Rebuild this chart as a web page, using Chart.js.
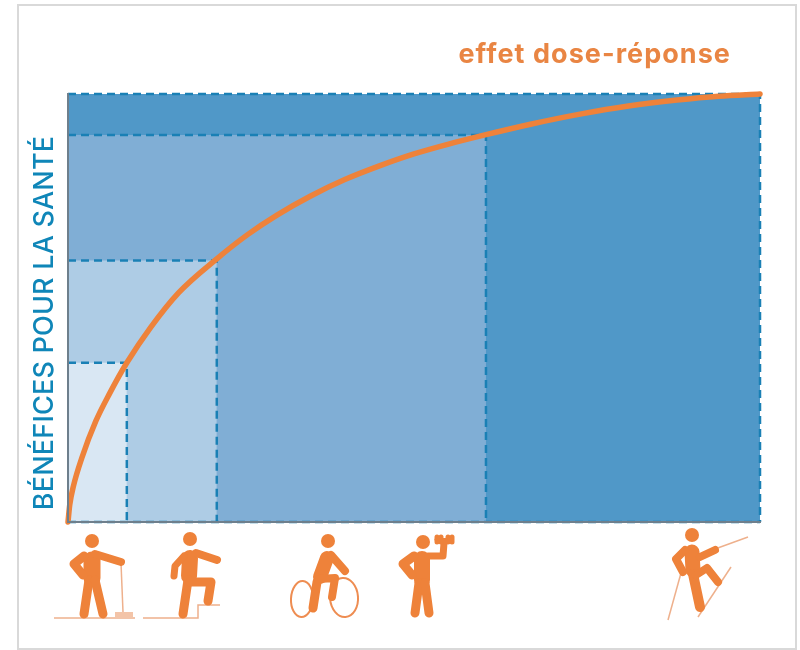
<!DOCTYPE html>
<html lang="fr">
<head>
<meta charset="utf-8">
<title>effet dose-réponse</title>
<script src="https://cdn.jsdelivr.net/npm/chart.js@4"></script>
<style>
    html, body { margin: 0; padding: 0; background: #fff; }
    #wrap { position: relative; width: 800px; height: 650px; overflow: hidden; }
    #frame { position: absolute; left: 17px; top: 4px; width: 776px; height: 642px; border: 2px solid #d9d9d9; }
    canvas { position: absolute; left: 0; top: 0; }
</style>
</head>
<body>
<div id="wrap">
    <div id="frame"></div>
    <canvas id="doseChart" width="800" height="650"></canvas>
</div>
<script>
// Curve
const curveDose =    [0, 0.25, 0.8, 2, 4, 6, 8.5, 12, 16, 21.5, 26, 30.2, 35, 40, 45, 50, 55, 60.4, 67, 74, 81, 88, 94, 100];
const curveBenefit = [0, 4, 8.5, 15, 23.5, 30, 37.2, 45.6, 53.6, 61.5, 67.2, 71.7, 76.1, 80, 83.2, 86, 88.3, 90.5, 93, 95.3, 97.2, 98.6, 99.5, 100];

// Dashed boxes, one per activity level
const levelDose =    [8.5, 21.5, 60.4, 100];
const levelBenefit = [37.2, 61.1, 90.4, 100];
const levelColors = ['#d9e7f3', '#aecce5', '#80aed5', '#5098c8'];

const chartTitle = 'effet dose-réponse';
const yLabel = 'BÉNÉFICES POUR LA SANTÉ';

const ORANGE = '#ee823a';
const PALE = '#eeb08c';
const DASH = '#1a80b5';

const datasets = [{
    data: curveDose.map((x, i) => ({ x: x, y: curveBenefit[i] })),
    borderColor: ORANGE,
    borderWidth: 5.5,
    borderCapStyle: 'round',
    cubicInterpolationMode: 'monotone',
    pointRadius: 0,
    fill: false,
    clip: false,
    order: 0
}, {
    // dashes along the base of the boxes
    data: [{ x: 0, y: 0 }, { x: 100, y: 0 }],
    borderColor: DASH,
    borderWidth: 2.5,
    borderDash: [8, 5],
    pointRadius: 0,
    fill: false,
    clip: false,
    order: 1
}];

levelDose.forEach((dose, i) => {
    datasets.push({
        data: [
            { x: 0, y: levelBenefit[i] },
            { x: dose, y: levelBenefit[i] },
            { x: dose, y: 0 }
        ],
        borderColor: DASH,
        borderWidth: 2.5,
        borderDash: [8, 5],
        backgroundColor: levelColors[i],
        fill: 'origin',
        tension: 0,
        pointRadius: 0,
        clip: false,
        order: i + 2
    });
});

// Small helpers for the pictograms under the axis
function limb(ctx, width, pts) {
    ctx.strokeStyle = ORANGE;
    ctx.lineWidth = width;
    ctx.lineCap = 'round';
    ctx.lineJoin = 'round';
    ctx.beginPath();
    pts.forEach((p, i) => i ? ctx.lineTo(p[0], p[1]) : ctx.moveTo(p[0], p[1]));
    ctx.stroke();
}

function thin(ctx, color, width, pts) {
    ctx.strokeStyle = color;
    ctx.lineWidth = width;
    ctx.lineCap = 'butt';
    ctx.lineJoin = 'miter';
    ctx.beginPath();
    pts.forEach((p, i) => i ? ctx.lineTo(p[0], p[1]) : ctx.moveTo(p[0], p[1]));
    ctx.stroke();
}

function head(ctx, x, y) {
    ctx.fillStyle = ORANGE;
    ctx.beginPath();
    ctx.arc(x, y, 7, 0, Math.PI * 2);
    ctx.fill();
}

function drawSweeper(ctx) {
    thin(ctx, PALE, 1.5, [[54, 618], [135, 618]]);
    thin(ctx, PALE, 1.5, [[121, 563], [123, 612]]);
    ctx.fillStyle = '#f3c4a8';
    ctx.fillRect(115, 612, 18, 5);
    head(ctx, 92, 541);
    limb(ctx, 17, [[92, 560], [92, 578]]);
    limb(ctx, 9, [[89, 580], [84, 614]]);
    limb(ctx, 9, [[95, 580], [103, 614]]);
    limb(ctx, 8, [[95, 554], [121, 562]]);
    limb(ctx, 9, [[84, 556], [74, 564], [83, 575]]);
}

function drawStepper(ctx) {
    thin(ctx, PALE, 1.5, [[143, 618], [198, 618], [198, 605], [220, 605]]);
    head(ctx, 190, 539);
    limb(ctx, 16, [[190, 558], [189, 576]]);
    limb(ctx, 9, [[188, 580], [183, 614]]);
    limb(ctx, 9, [[190, 582], [211, 582], [208, 601]]);
    limb(ctx, 8, [[196, 553], [217, 560]]);
    limb(ctx, 7, [[184, 556], [175, 566], [174, 576]]);
}

function drawCyclist(ctx) {
    ctx.strokeStyle = '#ee8d52';
    ctx.lineWidth = 2;
    ctx.beginPath();
    ctx.ellipse(302, 599, 11, 18, 0.05, 0, Math.PI * 2);
    ctx.stroke();
    ctx.beginPath();
    ctx.ellipse(344, 597.5, 14, 19.5, -0.08, 0, Math.PI * 2);
    ctx.stroke();
    head(ctx, 328, 541);
    limb(ctx, 14, [[327, 558], [320, 577]]);
    limb(ctx, 8, [[331, 555], [345, 571]]);
    limb(ctx, 9, [[317, 582], [313, 608]]);
    limb(ctx, 8, [[319, 579], [335, 578], [332, 597]]);
}

function drawLifter(ctx) {
    head(ctx, 423, 542);
    limb(ctx, 16, [[422, 559], [422, 580]]);
    limb(ctx, 9, [[419, 583], [415, 613]]);
    limb(ctx, 9, [[425, 583], [429, 613]]);
    limb(ctx, 9, [[414, 556], [403, 564], [412, 575]]);
    limb(ctx, 7, [[428, 556], [443, 556], [444, 543]]);
    limb(ctx, 3, [[436, 539.5], [452, 539.5]]);
    limb(ctx, 5, [[437, 537], [437, 542]]);
    limb(ctx, 5, [[441, 537], [441, 542]]);
    limb(ctx, 5, [[448, 537], [448, 542]]);
    limb(ctx, 5, [[452, 537], [452, 542]]);
}

function drawHiker(ctx) {
    thin(ctx, PALE, 1.5, [[715, 549], [748, 537]]);
    thin(ctx, PALE, 1.5, [[681, 573], [668, 620]]);
    thin(ctx, PALE, 1.5, [[698, 617], [731, 567]]);
    head(ctx, 692, 535);
    limb(ctx, 15, [[692, 552], [693, 570]]);
    limb(ctx, 10, [[693, 574], [700, 607]]);
    limb(ctx, 8, [[696, 575], [707, 568], [718, 582]]);
    limb(ctx, 8, [[700, 557], [715, 550]]);
    limb(ctx, 8, [[685, 550], [676, 559], [683, 572]]);
}

// Texts and pictograms around the plot
const decorations = {
    id: 'decorations',
    afterDraw(chart) {
        const ctx = chart.ctx;
        ctx.save();

        ctx.fillStyle = '#e98543';
        ctx.font = '700 27px Inter';
        ctx.letterSpacing = '1.05px';
        ctx.textAlign = 'right';
        ctx.textBaseline = 'alphabetic';
        ctx.fillText(chartTitle, 731, 63);
        ctx.letterSpacing = '0px';

        ctx.save();
        ctx.translate(53, 323);
        ctx.rotate(-Math.PI / 2);
        ctx.fillStyle = '#0f86b8';
        ctx.font = '500 27px Inter';
        ctx.letterSpacing = '0.2px';
        ctx.textAlign = 'center';
        ctx.fillText(yLabel, 0, 0);
        ctx.restore();

        drawSweeper(ctx);
        drawStepper(ctx);
        drawCyclist(ctx);
        drawLifter(ctx);
        drawHiker(ctx);
        ctx.restore();
    }
};

new Chart(document.getElementById('doseChart').getContext('2d'), {
    type: 'line',
    data: { datasets: datasets },
    plugins: [decorations],
    options: {
        responsive: false,
        animation: false,
        layout: { padding: { left: 68, top: 94, right: 40, bottom: 128 } },
        plugins: { legend: { display: false }, tooltip: { enabled: false } },
        scales: {
            x: {
                type: 'linear',
                min: 0,
                max: 100,
                ticks: { display: false },
                grid: { display: false, drawTicks: false },
                border: { color: '#6e7f8c', width: 2, z: 1 }
            },
            y: {
                min: 0,
                max: 100,
                ticks: { display: false },
                grid: { display: false, drawTicks: false },
                border: { color: '#6e7f8c', width: 2, z: 1 }
            }
        }
    }
});
</script>
</body>
</html>
